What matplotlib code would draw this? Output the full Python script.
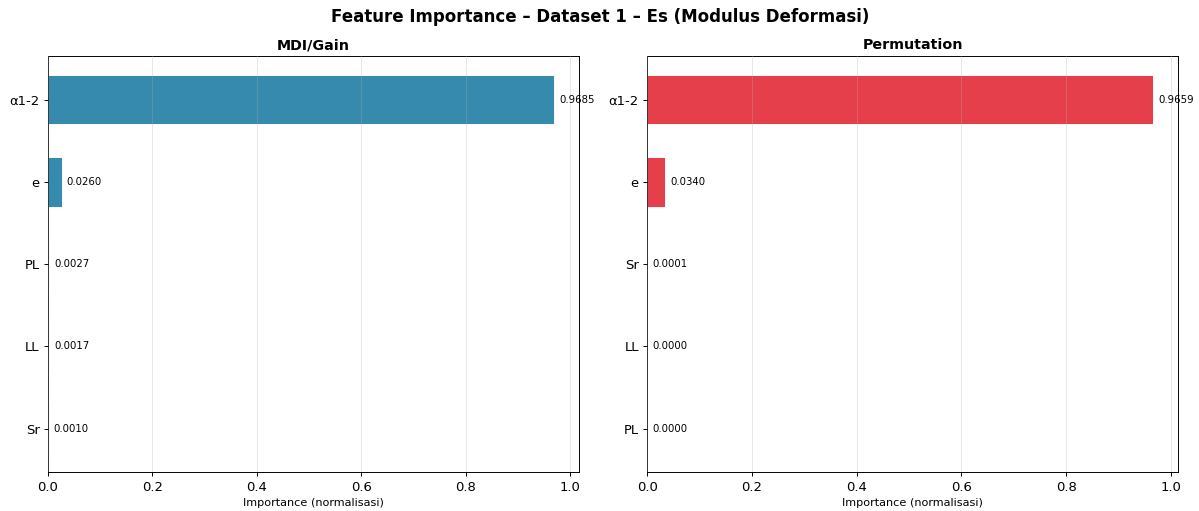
import numpy as np
import matplotlib
matplotlib.use("Agg")
import matplotlib.pyplot as plt

# MDI / gain importances
mdi_features = ["α1-2", "e", "PL", "LL", "Sr"]
mdi_values = [0.9685, 0.0260, 0.0027, 0.0017, 0.0010]

# permutation importances
perm_features = ["α1-2", "e", "Sr", "LL", "PL"]
perm_values = [0.9659, 0.0340, 0.0001, 0.0000, 0.0000]

panels = [
    ("MDI/Gain", mdi_features, mdi_values, "#2E86AB"),
    ("Permutation", perm_features, perm_values, "#E63946"),
]

fig, axes = plt.subplots(1, 2, figsize=(14, 5.962), dpi=85.714)
fig.subplots_adjust(left=0.04, right=0.982, top=0.890, bottom=0.076, wspace=0.128)

for ax, (title, feats, vals, color) in zip(axes, panels):
    y = np.arange(len(feats))
    ax.barh(y, vals, height=0.6, color=color, alpha=0.97, edgecolor="white", linewidth=0.8)
    ax.set_yticks(y)
    ax.set_yticklabels(feats, fontsize=11)
    ax.invert_yaxis()
    ax.set_xlim(0, max(vals) * 1.05)
    ax.tick_params(axis="x", labelsize=11)
    ax.set_xlabel("Importance (normalisasi)", fontsize=9.5)
    ax.set_title(title, fontsize=12, fontweight="bold")
    ax.grid(axis="x", alpha=0.3)
    ax.set_axisbelow(False)
    for yi, v in zip(y, vals):
        ax.text(v + 0.01, yi, f"{v:.4f}", va="center", ha="left", fontsize=8.5)

fig.suptitle("Feature Importance – Dataset 1 – Es (Modulus Deformasi)",
             fontsize=14, fontweight="bold", y=0.985)

fig.savefig("out.png", dpi=85.714)
